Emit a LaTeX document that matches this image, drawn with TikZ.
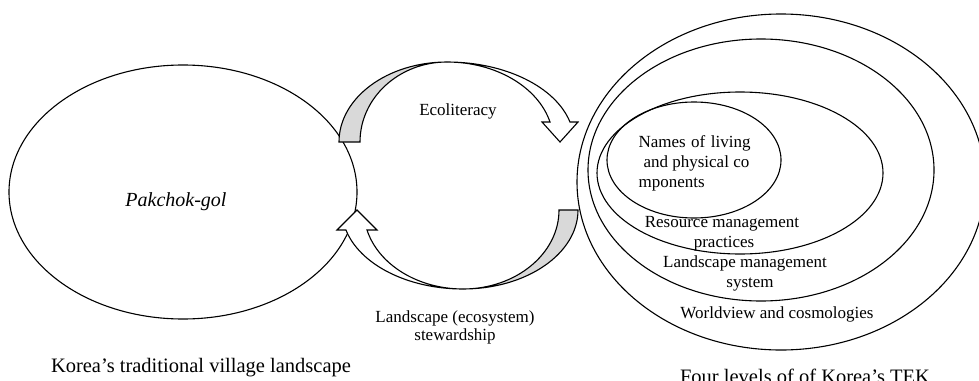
\documentclass[tikz,border=0pt]{standalone}
\usepackage{fontspec}
\setmainfont{Liberation Serif}
\begin{document}
\begin{tikzpicture}[x=1pt,y=-1pt,line width=1.1pt,line join=miter,
  ring/.style={draw=black},
  band/.style={draw=black,fill=white},
  bandback/.style={draw=black,fill=black!15},
  lbl/.style={font=\fontsize{17}{18}\selectfont,inner sep=0pt,anchor=base},
  captxt/.style={font=\fontsize{20.5}{24}\selectfont,inner sep=0pt,anchor=base}]
\useasboundingbox (0,0) rectangle (979,380);

% village landscape
\draw[ring] (183,192) ellipse [x radius=174, y radius=127];
\node[font=\fontsize{20}{22}\selectfont\itshape,inner sep=0pt,anchor=base] (pak) at (176,206) {Pakchok-gol};

% four nested levels of knowledge
\draw[ring] (781,182) ellipse [x radius=204, y radius=168];
\draw[ring] (761,170) ellipse [x radius=173, y radius=131];
\draw[ring] (740,173) ellipse [x radius=143, y radius=81];
\draw[ring] (694,160) ellipse [x radius=87, y radius=58];

\node[lbl,anchor=base west] (n1) at (638,147) {\makebox[112pt][s]{Names of living}};
\node[lbl,anchor=base west] (n2) at (643,167) {and physical co};
\node[lbl,anchor=base west] (n3) at (638,187) {mponents};
\node[lbl] (r1) at (722,227) {Resource management};
\node[lbl] (r2) at (724,247) {practices};
\node[lbl] (l1) at (745,267) {Landscape management};
\node[lbl] (l2) at (750,287) {system};
\node[lbl] (w1) at (777,318) {Worldview and cosmologies};

% upper curved arrow (ecoliteracy)
\coordinate (ut) at (339,142);
\draw[bandback] (ut) arc[start angle=180,end angle=270,x radius=108,y radius=80]
  arc[start angle=270,end angle=180,x radius=87,y radius=80] -- cycle;
\draw[band] (447,62) arc[start angle=270,end angle=345.52,x radius=127,y radius=80]
  -- (578,122) -- (560,142) -- (542,122) -- (550,122)
  arc[start angle=345.52,end angle=270,x radius=106.4,y radius=80] -- cycle;
\node[lbl] (eco) at (458,115) {Ecoliteracy};

% lower curved arrow (stewardship)
\coordinate (lt) at (578,210);
\draw[bandback] (lt) arc[start angle=0,end angle=90,x radius=115,y radius=79]
  arc[start angle=90,end angle=0,x radius=96,y radius=79] -- cycle;
\draw[band] (463,289) arc[start angle=90,end angle=165.33,x radius=121,y radius=79]
  -- (337,230) -- (357,210) -- (377,230) -- (367,230)
  arc[start angle=165.33,end angle=90,x radius=99.3,y radius=79] -- cycle;
\node[lbl] (st1) at (455,322) {Landscape (ecosystem)};
\node[lbl] (st2) at (455,340) {stewardship};

% captions
\node[captxt] (c1) at (201,372) {Korea’s traditional village landscape};
\node[captxt] (c2) at (805,383) {Four levels of of Korea’s TEK};
\end{tikzpicture}
\end{document}
